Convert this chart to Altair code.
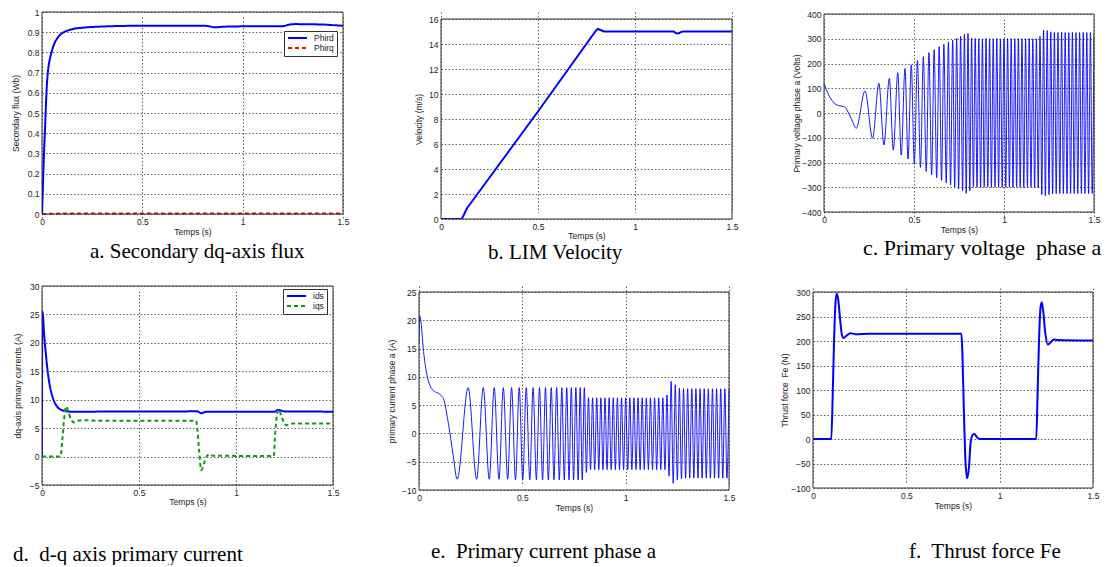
import altair as alt
import pandas as pd

# ------------------------------------------------------------------ data
X_TICKS = [0, 0.5, 1, 1.5]
YT_A = [0, 0.1, 0.2, 0.3, 0.4, 0.5, 0.6, 0.7, 0.8, 0.9, 1]
YT_B = [0, 2, 4, 6, 8, 10, 12, 14, 16]
YT_C = [-400, -300, -200, -100, 0, 100, 200, 300, 400]
YT_D = [-5, 0, 5, 10, 15, 20, 25, 30]
YT_E = [-10, -5, 0, 5, 10, 15, 20, 25]
YT_F = [-100, -50, 0, 50, 100, 150, 200, 250, 300]

# a. secondary flux
phird_t = [0, 0.002, 0.005, 0.01, 0.015, 0.02, 0.025, 0.03, 0.04, 0.05, 0.06, 0.08, 0.1, 0.12,
           0.15, 0.2, 0.3, 0.5, 0.8, 0.83, 0.86, 0.9, 1.0, 1.2, 1.23, 1.26, 1.4, 1.45, 1.5]
phird_v = [0, 0.05, 0.15, 0.3, 0.42, 0.55, 0.65, 0.71, 0.77, 0.81, 0.84, 0.875, 0.895, 0.905,
           0.915, 0.922, 0.928, 0.932, 0.932, 0.93, 0.924, 0.927, 0.929, 0.93, 0.937, 0.94, 0.938, 0.935, 0.932]
phirq_t = [0, 0.1, 0.5, 1.0, 1.5]
phirq_v = [0.0, 0.002, 0.003, 0.003, 0.003]

# b. velocity
vel_t = [0, 0.105, 0.11, 0.12, 0.135, 0.15, 0.5, 0.8, 0.81, 0.825, 0.84, 1.2, 1.21, 1.225, 1.24, 1.25, 1.5]
vel_v = [0, 0, 0.1, 0.4, 0.9, 1.2, 8.6, 15.1, 15.2, 15.1, 15.0, 15.0, 14.88, 14.85, 14.98, 15.0, 15.0]

# c. primary voltage phase a (early part, then extrema)
volt_early_t = [0, 0.013, 0.026, 0.045, 0.063, 0.081, 0.109, 0.12, 0.128, 0.14, 0.155, 0.179,
                0.228, 0.27, 0.305, 0.333, 0.363, 0.385, 0.41, 0.429, 0.45, 0.467, 0.485]
volt_early_v = [117, 95, 73, 50, 36, 30, 26, 22, 12, -5, -28, -62,
                89, -102, 120, -129, 140, -150, 163, -170, 180, -186, 195]

osc_t = [0.502, 0.519, 0.536, 0.552, 0.568, 0.583, 0.598, 0.612, 0.626, 0.640, 0.653, 0.666,
         0.679, 0.691, 0.703, 0.715, 0.726, 0.737, 0.748, 0.759, 0.770, 0.780, 0.790, 0.800,
         0.81, 0.82, 0.83, 0.84, 0.85, 0.86, 0.87, 0.88, 0.89, 0.90,
         0.91, 0.92, 0.93, 0.94, 0.95, 0.96, 0.97, 0.98, 0.99, 1.00,
         1.01, 1.02, 1.03, 1.04, 1.05, 1.06, 1.07, 1.08, 1.09, 1.10,
         1.11, 1.12, 1.13, 1.14, 1.15, 1.16, 1.17, 1.18, 1.19, 1.20,
         1.21, 1.22, 1.23, 1.24, 1.25, 1.26, 1.27, 1.28, 1.29, 1.30,
         1.31, 1.32, 1.33, 1.34, 1.35, 1.36, 1.37, 1.38, 1.39, 1.40,
         1.41, 1.42, 1.43, 1.44, 1.45, 1.46, 1.47, 1.48, 1.49, 1.50]

volt_osc_v = [-205, 212, -220, 228, -236, 244, -250, 256, -262, 268, -273, 278,
              -283, 287, -291, 295, -299, 303, -307, 310, -314, 318, -325, 322,
              -315, 302, -300, 301, -300, 300, -301, 300, -300, 301,
              -300, 300, -301, 300, -300, 301, -300, 300, -301, 300,
              -300, 301, -300, 300, -301, 300, -300, 301, -300, 300,
              -301, 300, -300, 301, -300, 300, -301, 300, -302, 310,
              -330, 335, -336, 333, -330, 328, -327, 326, -326, 325,
              -325, 326, -325, 325, -326, 325, -325, 326, -325, 325,
              -326, 325, -325, 326, -325, 325, -326, 325, -325, 318]

# d. dq-axis primary currents
ids_t = [0, 0.001, 0.005, 0.01, 0.02, 0.03, 0.04, 0.05, 0.06, 0.07, 0.08, 0.1, 0.12, 0.15,
         0.8, 0.81, 0.82, 0.835, 0.85, 1.2, 1.215, 1.23, 1.25, 1.5]
ids_v = [0, 25.5, 24.8, 22, 18, 14.8, 12.5, 11, 9.9, 9.2, 8.7, 8.2, 8.0, 7.9,
         7.95, 7.8, 7.6, 7.8, 7.9, 7.9, 8.2, 8.1, 7.95, 7.9]
iqs_t = [0, 0.095, 0.105, 0.115, 0.124, 0.135, 0.15, 0.167, 0.185, 0.206, 0.3, 0.795, 0.8, 0.81,
         0.821, 0.835, 0.85, 0.864, 0.88, 1.195, 1.2, 1.21, 1.22, 1.235, 1.25, 1.26, 1.28, 1.5]
iqs_v = [0, 0, 3, 7, 8.8, 8.0, 6.5, 6.0, 6.3, 6.4, 6.3, 6.3, 5.0, 1.0,
         -2.4, -1.2, 0.1, 0.4, 0.15, 0.1, 3, 7, 8.3, 7.0, 5.8, 5.5, 5.8, 5.8]

# e. primary current phase a (early part, then extrema at osc_t)
curr_early_t = [0, 0.003, 0.008, 0.015, 0.022, 0.029, 0.037, 0.045, 0.053, 0.069, 0.093, 0.11,
                0.118, 0.125, 0.134, 0.15, 0.166, 0.185, 0.238, 0.279, 0.311, 0.340, 0.364,
                0.387, 0.408, 0.429, 0.448, 0.467, 0.485]
curr_early_v = [15.9, 20.8, 20.2, 17.5, 14.5, 12.4, 10.6, 9.3, 8.5, 7.6, 7.1, 6.6,
                6.2, 5.3, 3.5, 0, -4.1, -8.1, 8.1, -8.1, 8.1, -8.1, 8.1,
                -8.1, 8.1, -8.1, 8.1, -8.2, 8.1]
curr_osc_v = [-8.2, 8.1, -8.2, 8.1, -8.2, 8.1, -8.2, 8.1, -8.2, 8.1, -8.2, 8.1,
              -8.2, 8.1, -8.2, 8.1, -8.2, 8.1, -8.2, 8.1, -8.2, 8.1, -8.2, 8.1,
              -6.9, 6.3, -6.4, 6.3, -6.4, 6.3, -6.4, 6.3, -6.4, 6.3,
              -6.4, 6.3, -6.4, 6.3, -6.4, 6.3, -6.4, 6.3, -6.4, 6.3,
              -6.4, 6.3, -6.4, 6.3, -6.4, 6.3, -6.4, 6.3, -6.4, 6.3,
              -6.4, 6.3, -6.4, 6.3, -6.4, 6.3, -6.4, 6.3, -6.4, 6.8,
              -7.5, 9.2, -8.8, 8.6, -8.2, 8.0, -8.0, 7.9, -7.9, 7.9,
              -7.9, 7.9, -7.9, 7.9, -7.9, 7.9, -7.9, 7.9, -7.9, 7.9,
              -7.9, 7.9, -7.9, 7.9, -7.9, 7.9, -7.9, 7.9, -7.9, 7.9]

# f. thrust force
thr_t = [0, 0.098, 0.105, 0.112, 0.12, 0.127, 0.135, 0.145, 0.155, 0.163, 0.18, 0.2, 0.23, 0.3,
         0.795, 0.8, 0.808, 0.815, 0.825, 0.835, 0.845, 0.855, 0.865, 0.88, 0.895, 1.196,
         1.203, 1.21, 1.218, 1.225, 1.232, 1.245, 1.258, 1.27, 1.29, 1.31, 1.5]
thr_v = [0, 0, 80, 190, 275, 297, 285, 245, 212, 206, 211, 216, 214, 215,
         215, 180, 60, -30, -80, -60, -5, 8, 10, 3, 0, 0,
         90, 190, 265, 279, 265, 215, 193, 196, 203, 202, 201]

# ------------------------------------------------------------------ style
SANS = "Liberation Sans"
SERIF = "Liberation Serif"
TXT = "#222222"
BLUE = "#0000ff"
FS = 8.5
NB = "\u00a0"


def axis_common():
    return dict(grid=True, gridColor="#222222", gridDash=[1.5, 2], gridWidth=0.8, gridOpacity=0.9,
                ticks=False, tickSize=0, domain=False, labelFlush=False, labelOverlap=False,
                labelFont=SANS, labelFontSize=FS, labelColor=TXT, labelPadding=3, format="~r",
                titleFont=SANS, titleFontSize=FS, titleFontWeight="normal", titleColor=TXT,
                titleBaseline="middle", titleAlign="center")


def caption(text, dx, off, size=21):
    return alt.TitleParams(text=text, orient="bottom", anchor="start", frame="group", dx=dx, offset=off,
                           baseline="alphabetic", font=SERIF, fontSize=size, fontWeight="normal", color="#000000")


def legend(lx, ly):
    return alt.Legend(title=None, orient="none", legendX=lx, legendY=ly, fillColor="white",
                      strokeColor="#333333", padding=3, symbolType="stroke", symbolSize=360,
                      symbolStrokeWidth=2, clipHeight=8, rowPadding=1, labelOffset=6,
                      labelFont=SANS, labelFontSize=FS, labelColor=TXT)


def frame_df(ts, vs, name=None):
    d = pd.DataFrame({"t": ts, "v": vs})
    if name is not None:
        d["s"] = name
    return d


def panel(df, W, H, xr, yr, yvals, ytitle, ytx, xty, yoff, xoff, cap, line_mark, extra_enc):
    xsc = alt.Scale(domain=[0, 1.5], nice=False, range=xr)
    ysc = alt.Scale(domain=[yvals[0], yvals[-1]], nice=False, zero=False, range=yr)
    xax = alt.Axis(values=X_TICKS, title="Temps (s)", titleX=(xr[0] + xr[1]) / 2, titleY=xty,
                   offset=xoff, **axis_common())
    yax = alt.Axis(values=yvals, title=ytitle, titleX=ytx, titleY=(yr[0] + yr[1]) / 2, titleAngle=270,
                   offset=yoff, **axis_common())
    lines = alt.Chart(df).mark_line(**line_mark).encode(
        x=alt.X("t:Q", scale=xsc, axis=xax),
        y=alt.Y("v:Q", scale=ysc, axis=yax),
        **extra_enc,
    )
    box = pd.DataFrame({"t0": [0], "t1": [1.5], "v0": [yvals[0]], "v1": [yvals[-1]]})
    frame = alt.Chart(box).mark_rect(fillOpacity=0, stroke="#333333", strokeWidth=1).encode(
        x=alt.X("t0:Q", scale=xsc, axis=xax), x2="t1:Q",
        y=alt.Y("v0:Q", scale=ysc, axis=yax), y2="v1:Q",
    )
    return alt.layer(lines, frame).properties(
        width=W, height=H, title=cap, view=alt.ViewBackground(strokeOpacity=0))


# target layout (pixels): column view boxes and row view boxes
# col1 x 42..343, col3 x 419..732, col5 x 813..1094 ; row1 y 12..219, row3 y 286..490
pa = panel(pd.concat([frame_df(phird_t, phird_v, "Phird"), frame_df(phirq_t, phirq_v, "Phirq")]),
           301, 207, [0, 301], [202, 0], YT_A, "Secondary flux (Wb)", -27, 17, 0, -5,
           caption("a. Secondary dq-axis flux", 48, 22),
           dict(strokeWidth=2, interpolate="monotone", clip=True),
           dict(color=alt.Color("s:N", scale=alt.Scale(domain=["Phird", "Phirq"], range=[BLUE, "#ff0000"]),
                                legend=legend(242, 19)),
                strokeDash=alt.StrokeDash("s:N", scale=alt.Scale(domain=["Phird", "Phirq"], range=[[1, 0], [4, 3]]),
                                          legend=legend(242, 19))))

pb = panel(frame_df(vel_t, vel_v), 313, 207, [22, 313], [207, 7], YT_B, "Velocity (m/s)", -23, 16, -22, 0,
           caption("b. LIM Velocity", 69, 19),
           dict(strokeWidth=2, color=BLUE, interpolate="linear", clip=True), {})

pc = panel(frame_df(volt_early_t + osc_t, volt_early_v + volt_osc_v), 281, 207, [11, 281], [200, 2], YT_C,
           "Primary voltage phase a (Volts)", -28, 17, -11, -7,
           caption("c. Primary voltage" + NB + " phase a", 50, 21, 22),
           dict(strokeWidth=0.9, color=BLUE, interpolate="monotone", clip=True), {})

pd_ = panel(pd.concat([frame_df(ids_t, ids_v, "ids"), frame_df(iqs_t, iqs_v, "iqs")]),
            301, 204, [0, 291], [199, 0], YT_D, "dq-axis primary currents (A)", -25, 16, 0, -5,
            caption("d." + NB + " d-q axis primary current", -29, 55),
            dict(strokeWidth=2, interpolate="monotone", clip=True),
            dict(color=alt.Color("s:N", scale=alt.Scale(domain=["ids", "iqs"], range=[BLUE, "#119911"]),
                                 legend=legend(241, 3)),
                 strokeDash=alt.StrokeDash("s:N", scale=alt.Scale(domain=["ids", "iqs"], range=[[1, 0], [4, 3]]),
                                           legend=legend(241, 3))))

pe = panel(frame_df(curr_early_t + osc_t, curr_early_v + curr_osc_v), 313, 204, [0, 310], [204, 6], YT_E,
           "primary current phase a (A)", -28, 17, 0, 0,
           caption("e." + NB + " Primary current phase a", 12, 46),
           dict(strokeWidth=0.9, color=BLUE, interpolate="monotone", clip=True), {})

pf = panel(frame_df(thr_t, thr_v), 281, 204, [0, 280], [202, 6], YT_F, "Thrust force" + NB + " Fe (N)", -29, 17, 0, -2,
           caption("f." + NB + " Thrust force Fe", 96, 48),
           dict(strokeWidth=2, color=BLUE, interpolate="monotone", clip=True), {})


def spacer(w, h):
    return alt.Chart(pd.DataFrame({"t": [0], "v": [0]})).mark_point(opacity=0).encode(
        x=alt.X("t:Q", axis=None), y=alt.Y("v:Q", axis=None)
    ).properties(width=w, height=h, view=alt.ViewBackground(strokeOpacity=0, fillOpacity=0))


cells = [
    spacer(42, 12), spacer(1, 12), spacer(76, 12), spacer(1, 12), spacer(81, 12), spacer(1, 12),
    spacer(42, 1), pa, spacer(76, 1), pb, spacer(81, 1), pc,
    spacer(42, 67), spacer(1, 67), spacer(76, 67), spacer(1, 67), spacer(81, 67), spacer(1, 67),
    spacer(42, 1), pd_, spacer(76, 1), pe, spacer(81, 1), pf,
]

chart = alt.concat(*cells, columns=6, spacing=0, bounds="flush", align="each").resolve_scale(
    color="independent", strokeDash="independent"
).properties(padding=0, background="white").configure_view(stroke="transparent")

chart.save("out.html", embed_options={"renderer": "svg", "actions": False})
